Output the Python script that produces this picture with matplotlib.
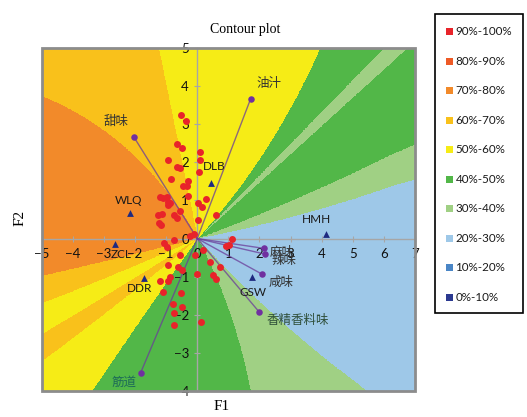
import numpy as np
import matplotlib.pyplot as plt
from matplotlib.colors import ListedColormap, BoundaryNorm
from matplotlib.patches import Rectangle

# classes da legenda (de cima para baixo)
classes = ['90%-100%', '80%-90%', '70%-80%', '60%-70%', '50%-60%',
           '40%-50%', '30%-40%', '20%-30%', '10%-20%', '0%-10%']
class_colors = ['#e8242a', '#ee5a26', '#f28a2a', '#f9c11b', '#f6ec16',
                '#52b748', '#a0d084', '#9ec8e8', '#4a86c6', '#2b3990']

# setores do mapa de preferência: ângulo inicial (graus) perto da origem e na borda, e nível (%)
edge_in = [9, 17, 36.6, 39.9, 42, 104, 124, 191.5, 200, 207.5, 214.5, 229, 303, 318]
edge_out = [12.5, 19.5, 36.6, 39.9, 52, 104, 144, 191, 198.5, 206.5, 212.6, 230, 288, 323.5]
edge_level = [30, 40, 30, 40, 50, 60, 70, 60, 50, 60, 50, 40, 30, 20]

# consumidores
cons_x = [-0.52, -0.36, -0.66, -0.50, 0.09, -0.93, 0.09, -0.66, -0.55, 0.06,
          -0.85, -0.29, -0.45, -0.34, -0.31, -1.20, -1.11, -0.98, 0.27, -0.95,
          -0.87, 0.04, 0.14, -0.55, -1.25, -1.12, -0.75, -0.64, -1.23, -1.17,
          0.02, 0.60, -0.12, -0.22, -0.75, -1.08, -0.98, -0.55, -0.08, 0.20,
          0.41, 0.72, -0.02, 0.52, 0.59, -0.95, -0.62, -0.48, -1.20, -0.93,
          -0.87, -1.09, -0.53, -0.77, -0.50, -0.74, -0.75, 0.11, 1.13, 0.92,
          1.02, -0.93]
cons_y = [3.25, 3.10, 2.48, 2.37, 2.27, 2.07, 2.07, 1.89, 1.85, 1.74,
          1.56, 1.51, 1.38, 1.38, 1.12, 1.10, 1.06, 1.10, 1.04, 0.95,
          0.93, 0.93, 0.82, 0.73, 0.63, 0.64, 0.62, 0.55, 0.40, 0.35,
          0.50, 0.62, 0.13, 0.06, -0.03, -0.11, -0.22, -0.44, -0.43, -0.30,
          -0.61, -0.74, -0.92, -0.97, -1.06, -0.70, -0.76, -0.82, -1.11, -1.11,
          -1.02, -1.40, -1.43, -1.71, -1.81, -1.95, -2.26, -2.19, -0.02, -0.20,
          -0.17, 0.88]

# produtos
prod_names = ['DLB', 'WLQ', 'ZCL', 'DDR', 'GSW', 'HMH']
prod_x = [0.43, -2.16, -2.64, -1.71, 1.75, 4.14]
prod_y = [1.45, 0.66, -0.14, -1.05, -1.02, 0.11]
prod_lx = [0.53, -2.21, -2.46, -1.85, 1.79, 3.84]
prod_ly = [1.89, 1.01, -0.42, -1.31, -1.43, 0.49]

# atributos sensoriais
attr_names = ['甜味', '油汁', '筋道', '麻味', '辣味', '咸味', '香精香料味']
attr_x = [-2.03, 1.72, -1.82, 2.15, 2.18, 2.09, 2.00]
attr_y = [2.66, 3.68, -3.53, -0.26, -0.41, -0.94, -1.94]
attr_lx = [-2.62, 2.31, -2.35, 2.72, 2.80, 2.69, 3.22]
attr_ly = [3.07, 4.07, -3.79, -0.36, -0.59, -1.16, -2.16]
attr_cor = ['#333333', '#333333', '#1d6b58', '#333333', '#333333', '#333333', '#2f4f3a']

# campo de preferência
xs = np.linspace(-5, 7, 1200)
ys = np.linspace(-4, 5, 900)
X, Y = np.meshgrid(xs, ys)
R = np.hypot(X, Y)
A = np.degrees(np.arctan2(Y, X)) % 360
t = np.clip(R / 6.5, 0, 1)
idx = np.zeros(A.shape, dtype=int)
for a0, a1 in zip(edge_in, edge_out):
    idx += (A >= a0 + (a1 - a0) * t)
idx = idx - 1
Z = np.array(edge_level)[idx] + 5

W, H = 527, 417
fig = plt.figure(figsize=(W / 100, H / 100), dpi=100)
ax = fig.add_axes([41.7 / W, 1 - 390.7 / H, 373.3 / W, 342.4 / H])

cmap = ListedColormap(class_colors[::-1])
norm = BoundaryNorm(np.arange(0, 110, 10), 10)
ax.imshow(Z, extent=[-5, 7, -4, 5], origin='lower', cmap=cmap, norm=norm,
          aspect='auto', interpolation='nearest', zorder=0)
ax.set_xlim(-5, 7)
ax.set_ylim(-4, 5)

# eixos cruzando na origem
for s in ['top', 'right']:
    ax.spines[s].set_visible(False)
ax.spines['left'].set_position(('data', 0))
ax.spines['bottom'].set_position(('data', 0))
for s in ['left', 'bottom']:
    ax.spines[s].set_color('#a6a6a6')
    ax.spines[s].set_linewidth(1)
    ax.spines[s].set_zorder(1)
ax.set_xticks(range(-5, 8))
ax.set_yticks(range(-4, 6))
ax.tick_params(direction='inout', length=5, color='#a6a6a6', labelsize=9.5,
               labelcolor='#111111')
ax.tick_params(axis='x', pad=4.5)
ax.tick_params(axis='y', pad=3.5)
for lab in ax.get_xticklabels() + ax.get_yticklabels():
    lab.set_family('Lato')
    lab.set_zorder(6)

ax.add_patch(Rectangle((0, 0), 1, 1, transform=ax.transAxes, fill=False,
                       ec='#8c8c8c', lw=2, clip_on=False, zorder=5))

# vetores dos atributos
for x, y in zip(attr_x, attr_y):
    ax.plot([0, x], [0, y], color='#6a3d9a', lw=1, alpha=0.75, zorder=2)
ax.scatter(cons_x, cons_y, s=25, color='#e8232a', zorder=3, linewidths=0)
ax.scatter(attr_x, attr_y, s=22, color='#7030a0', zorder=4, linewidths=0)
ax.scatter(prod_x, prod_y, s=24, marker='^', color='#1f2a80', zorder=4, linewidths=0)

for n, x, y in zip(prod_names, prod_lx, prod_ly):
    ax.text(x, y, n, ha='center', va='center', fontsize=8.5, family='Lato',
            color='#1a1a1a', zorder=6)
for n, x, y, c in zip(attr_names, attr_lx, attr_ly, attr_cor):
    ax.text(x, y, n, ha='center', va='center', fontsize=9,
            family=['Noto Sans CJK SC', 'DejaVu Sans'], color=c, zorder=6)

fig.text(245.5 / W, 1 - 30 / H, 'Contour plot', ha='center', va='center',
         fontsize=10, family='Liberation Serif')
fig.text(222 / W, 1 - 406 / H, 'F1', ha='center', va='center',
         fontsize=11, family='Liberation Serif')
fig.text(20 / W, 1 - 218 / H, 'F2', ha='center', va='center',
         fontsize=11, family='Liberation Serif', rotation=90)

# legenda
fig.patches.append(Rectangle((435 / W, 1 - 313 / H), 88 / W, 299 / H,
                             transform=fig.transFigure, fill=False,
                             ec='black', lw=1.2))
for i, (c, l) in enumerate(zip(class_colors, classes)):
    yc = 1 - (31.7 + i * 29.5) / H
    fig.patches.append(Rectangle((445.5 / W, yc - 3.5 / H), 7 / W, 7 / H,
                                 transform=fig.transFigure, fc=c, ec='none'))
    fig.text(455.5 / W, yc, l, ha='left', va='center', fontsize=8.4,
             family='Lato', color='#1a1a1a')

fig.savefig('out.png', dpi=100, facecolor='white')
